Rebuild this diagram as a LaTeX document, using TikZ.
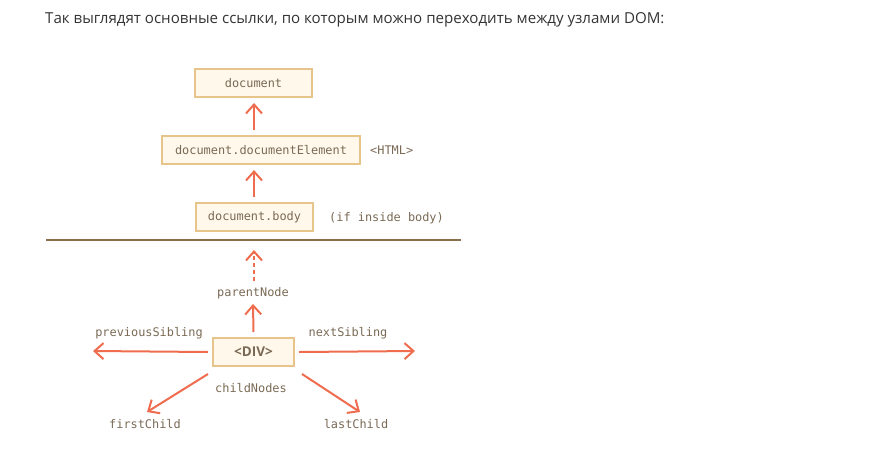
\documentclass[tikz,border=0pt]{standalone}
\usepackage{fontspec}
\setmainfont{Open Sans}
\newfontfamily\codefont{DejaVu Sans Mono}
\usetikzlibrary{arrows.meta}
\definecolor{boxfill}{HTML}{FFF8EB}
\definecolor{boxline}{HTML}{E6C48A}
\definecolor{labeltext}{HTML}{7A6A55}
\definecolor{arrowcol}{HTML}{EF6D4E}
\definecolor{rulecol}{HTML}{8B6E4B}
\definecolor{headtext}{HTML}{333333}
\begin{document}
\begin{tikzpicture}[x=1pt,y=-1pt,
  dombox/.style={draw=boxline,fill=boxfill,line width=2pt,inner sep=0pt,minimum height=28pt,
    font=\codefont\fontsize{11.9}{14}\selectfont,text=labeltext},
  lbl/.style={inner sep=0pt,font=\codefont\fontsize{11.9}{14}\selectfont,text=labeltext},
  link/.style={draw=arrowcol,line width=2pt,-{Straight Barb[length=9pt,width=16pt,line width=2pt]}}]
\useasboundingbox (0,0) rectangle (894,453);
\node[anchor=base west,inner sep=0pt,font=\fontsize{15.1}{18}\selectfont,text=headtext] (head) at (45,23)
  {Так выглядят основные ссылки, по которым можно переходить между узлами DOM:};
\node[dombox,minimum width=117pt] (doc) at (253.5,83) {document};
\node[dombox,minimum width=198pt] (docel) at (261,150) {document.documentElement};
\node[lbl,anchor=west] (html) at (370,150) {<HTML>};
\node[dombox,minimum width=117pt] (body) at (254.5,217) {document.body};
\node[lbl,anchor=west] (inside) at (329,218) {(if inside body)};
\coordinate (rl) at (46,240);
\coordinate (rr) at (461,240);
\draw[rulecol,line width=2pt] (rl) -- (rr);
\node[dombox,minimum width=81pt,font=\rmfamily\bfseries\fontsize{13.5}{16}\selectfont] (div) at (253.5,352) {<DIV>};
\node[lbl] (parent) at (253,293) {parentNode};
\node[lbl] (prev) at (149,333) {previousSibling};
\node[lbl] (next) at (348,333) {nextSibling};
\node[lbl] (child) at (251,388) {childNodes};
\node[lbl] (first) at (145,424) {firstChild};
\node[lbl] (last) at (356,424) {lastChild};
\coordinate (pt) at (254,250);
\coordinate (pb) at (254,281);
\coordinate (dt) at (254,131);
\coordinate (db) at (254,198);
\coordinate (prevend) at (93,351);
\coordinate (nextend) at (415,351);
\coordinate (fs) at (208,374);
\coordinate (fe) at (147,412);
\coordinate (ls) at (302,374);
\coordinate (le) at (360,412);
\draw[link] ([yshift=5pt]docel.north -| dt) -- ([yshift=-5pt]doc.south -| dt);
\draw[link] ([yshift=5pt]body.north -| db) -- ([yshift=-5pt]docel.south -| db);
\draw[link,dash pattern=on 4pt off 3pt] (pb) -- (pt);
\draw[link] ([yshift=5pt]div.north) -- ([yshift=-5pt]parent.south);
\draw[link] ([xshift=-4pt]div.west) -- (prevend);
\draw[link] ([xshift=4pt]div.east) -- (nextend);
\draw[link] (fs) -- (fe);
\draw[link] (ls) -- (le);
\end{tikzpicture}
\end{document}
